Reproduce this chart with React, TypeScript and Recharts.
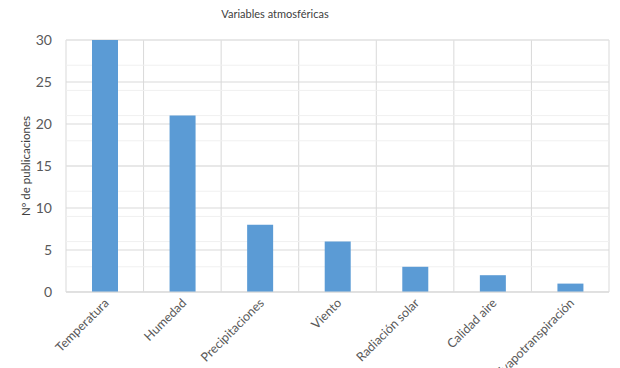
import { BarChart, Bar, XAxis, YAxis, CartesianGrid } from "recharts";

const categories = [
  "Temperatura",
  "Humedad",
  "Precipitaciones",
  "Viento",
  "Radiación solar",
  "Calidad aire",
  "Evapotranspiración",
];
const publicaciones = [30, 21, 8, 6, 3, 2, 1];
const majorTicks = [0, 5, 10, 15, 20, 25, 30];
const minorTicks = Array.from({ length: 31 }, (_, i) => i);

const data = categories.map((name, i) => ({ name, value: publicaciones[i] }));

const FONT = "Lato, 'Open Sans', sans-serif";

// vertical lines between the categories
const categoryBoundaries = ({ offset }: any) =>
  Array.from(
    { length: categories.length + 1 },
    (_, i) => offset.left + (i * offset.width) / categories.length
  );

function XTick(props: any) {
  const { x, y, payload } = props;
  return (
    <g transform={`translate(${x + 2},${y + 1})`}>
      <text
        textAnchor="end"
        transform="rotate(-45)"
        dy={4}
        fontSize={12.5}
        fill="#595959"
        fontFamily={FONT}
      >
        {payload.value}
      </text>
    </g>
  );
}

export default function App() {
  return (
    <div style={{ position: "absolute", left: 0, top: 0, width: 620, height: 368, background: "#fff", overflow: "hidden" }}>
      <div
        style={{
          position: "absolute",
          top: 7,
          left: 175,
          width: 200,
          textAlign: "center",
          fontFamily: FONT,
          fontSize: 11,
          color: "#404040",
        }}
      >
        Variables atmosféricas
      </div>
      <BarChart
        width={620}
        height={368}
        data={data}
        margin={{ top: 40, right: 11, bottom: 0, left: 6 }}
      >
        <CartesianGrid
          horizontal={false}
          verticalCoordinatesGenerator={categoryBoundaries}
          stroke="#d9d9d9"
        />
        <CartesianGrid
          vertical={false}
          horizontalValues={minorTicks}
          stroke="#f0f0f0"
        />
        <CartesianGrid
          vertical={false}
          horizontalValues={majorTicks}
          stroke="#d9d9d9"
        />
        <XAxis
          dataKey="name"
          interval={0}
          height={76}
          tickLine={false}
          axisLine={{ stroke: "#d9d9d9" }}
          tick={<XTick />}
        />
        <YAxis
          domain={[0, 30]}
          ticks={majorTicks}
          width={60}
          tickLine={false}
          axisLine={false}
          tickMargin={8}
          tick={{ fontSize: 14, fill: "#595959", fontFamily: FONT }}
          label={{
            value: "Nº de publicaciones",
            angle: -90,
            position: "insideLeft",
            offset: 20,
            style: { textAnchor: "middle", fontSize: 11.5, fill: "#404040", fontFamily: FONT },
          }}
        />
        <Bar dataKey="value" fill="#5b9bd5" barSize={26} isAnimationActive={false} />
      </BarChart>
    </div>
  );
}
